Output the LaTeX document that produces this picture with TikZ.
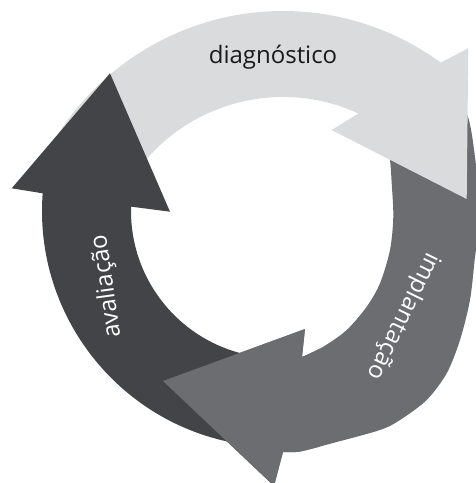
\documentclass[tikz,border=0pt]{standalone}
\usepackage{fontspec}
\setmainfont{Open Sans}
\usetikzlibrary{calc}
\definecolor{lightc}{RGB}{218,219,221}
\definecolor{medc}{RGB}{108,109,113}
\definecolor{darkc}{RGB}{67,68,71}
\definecolor{inkc}{RGB}{26,26,26}
\newcommand{\MedArrowPath}{%
  plot[smooth] coordinates {(452,92) (468,117) (475,157) (479,200) (478,235) (475,257) (470,300) (460,340) (446.7,373.3) (426.7,400) (400,420) (380,430) (333,443) (300,451.5) (283,452)}
  -- (274,486) -- (163,381) -- (305,329) -- (302,357)
  -- plot[smooth] coordinates {(302,357) (323.3,346.7) (346.7,330) (366.7,306.7) (380,283.3) (390,250) (393.3,216.7) (391.7,183.3) (390,160) (386,140)}
  -- cycle}
\begin{document}
\begin{tikzpicture}[x=1pt,y=-1pt,
  lbl/.style={inner sep=0pt, font=\fontsize{24}{28}\selectfont}]
\useasboundingbox (0,0) rectangle (475,483);
\coordinate (Cd) at (278,211);
\coordinate (Cl) at (283,278);
% medium arrow (implantacao), bottom layer
\fill[medc] \MedArrowPath;
% light arrow (diagnostico)
\fill[lightc] ($(Cl)+(209:267)$) arc[start angle=209,end angle=306.2,radius=267]
  -- (468.3,48.3) -- (466.7,199) -- (331.7,130)
  -- ($(Cl)+(294.6:181)$) arc[start angle=294.6,end angle=209,radius=181] -- cycle;
% dark arrow (avaliacao)
\fill[darkc] ($(Cd)+(98:236)$) arc[start angle=98,end angle=184.3,radius=236]
  -- (11.7,188.3) -- (110,73.3) -- (170,211.7)
  -- ($(Cd)+(181.7:147)$) arc[start angle=181.7,end angle=98,radius=147] -- cycle;
% medium arrowhead on top of dark tail
\begin{scope}
  \clip (130,300) rectangle (320,490);
  \fill[medc] \MedArrowPath;
\end{scope}
\node[lbl, text=inkc] (diag) at (273,57) {diagnóstico};
\node[lbl, text=white, rotate=98] (aval) at (107,286) {avaliação};
\node[lbl, text=white, rotate=-116] (impl) at (403,316) {implantação};
\end{tikzpicture}
\end{document}
